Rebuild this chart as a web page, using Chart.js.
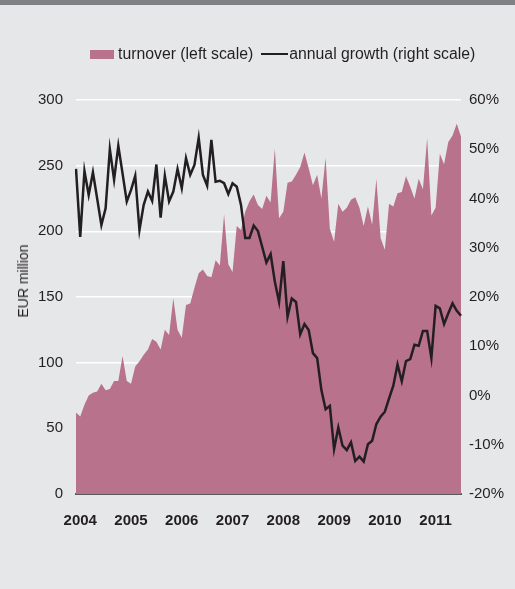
<!DOCTYPE html>
<html>
<head>
<meta charset="utf-8">
<script src="https://cdn.jsdelivr.net/npm/chart.js@4.4.1/dist/chart.umd.min.js"></script>
<style>
  html, body { margin: 0; padding: 0; }
  body { width: 515px; height: 589px; background: #e6e7e8; position: relative; overflow: hidden;
         font-family: 'Liberation Sans', Arial, sans-serif; color: #231f20; }
  #topbar { position: absolute; left: 0; top: 0; width: 515px; height: 5px; background: #808184; }
  #wrap { position: absolute; left: 0; top: 0; width: 515px; height: 589px; }
  #legend { position: absolute; top: 44px; left: 90px; height: 20px; display: flex; align-items: center;
            font-size: 15.8px; white-space: nowrap; }
  .box { width: 24px; height: 9px; background: #b8728b; margin-right: 4px; }
  .line { width: 27px; height: 2.5px; background: #231f20; margin-left: 8px; margin-right: 1px; }
  #ytitle { position: absolute; left: 23px; top: 281px; font-size: 14px; white-space: nowrap;
            transform: translate(-50%, -50%) rotate(-90deg); }
</style>
</head>
<body>
<div id="topbar"></div>
<div id="wrap"><canvas id="chart" width="515" height="589"></canvas></div>
<div id="legend">
  <span class="box"></span><span>turnover (left scale)</span>
  <span class="line"></span><span>annual growth (right scale)</span>
</div>
<div id="ytitle">EUR million</div>
<script>
// Monthly data, Jan 2004 - Aug 2011
const years = ['2004', '2005', '2006', '2007', '2008', '2009', '2010', '2011'];

// turnover, EUR million (left scale)
const turnover = [
  62, 59, 68, 75, 77, 78, 84, 79, 80, 86, 86, 105,
  86, 84, 97, 101, 106, 110, 118, 116, 110, 125, 121, 149,
  125, 119, 144, 145, 157, 168, 171, 166, 165, 178, 174, 213,
  175, 169, 204, 201, 215, 223, 228, 220, 217, 227, 222, 263,
  210, 215, 237, 238, 243, 249, 260, 248, 235, 243, 225, 256,
  202, 192, 221, 215, 218, 224, 226, 218, 204, 219, 205, 240,
  195, 186, 221, 219, 229, 230, 242, 234, 225, 240, 232, 271,
  212, 218, 259, 251, 268, 273, 282, 272
];

// annual growth, % (right scale)
const growth = [
  46, 32.2, 45.6, 40.7, 45.3, 40, 34.6, 38, 50, 43.8, 50.7, 45.1,
  39.4, 41.7, 44.6, 33.6, 38.7, 41.4, 39.5, 46.9, 36.1, 44.6, 39.4, 41.4,
  46, 42.1, 48.2, 44.8, 46.8, 52.3, 44.8, 42.6, 51.9, 43.4, 43.6, 43.1,
  40.9, 43.1, 42.4, 38.7, 32, 32, 34.5, 33.4, 30.2, 27, 28.7, 23.1,
  19, 27.3, 16, 19.7, 19, 12.4, 14.5, 13.3, 8.6, 7.6, 1.1, -2.8,
  -2.1, -10.9, -6.5, -10.2, -11.1, -9.5, -13.3, -12.4, -13.4, -9.9, -9.2, -5.8,
  -4.3, -3.3, -0.6, 2, 6.3, 2.9, 7, 7.4, 10.3, 10.1, 13.1, 13.1,
  7.6, 18.2, 17.7, 14.5, 16.7, 18.7, 17.2, 16.2
];

const labels = turnover.map((_, i) => years[Math.floor(i / 12)] + '-' + (i % 12 + 1));

const ink = '#231f20';
const tickFont = { family: "'Liberation Sans', Arial, sans-serif", size: 15 };

new Chart(document.getElementById('chart'), {
  type: 'line',
  data: {
    labels,
    datasets: [{
      label: 'annual growth (right scale)',
      data: growth,
      yAxisID: 'y1',
      borderColor: ink,
      borderWidth: 2.5,
      pointRadius: 0,
      tension: 0,
      fill: false,
      order: 0
    }, {
      label: 'turnover (left scale)',
      data: turnover,
      yAxisID: 'y',
      backgroundColor: '#b8728b',
      borderWidth: 0,
      pointRadius: 0,
      tension: 0,
      fill: 'origin',
      order: 1
    }]
  },
  options: {
    responsive: false,
    animation: false,
    layout: { padding: { top: 100, left: 0, right: 0, bottom: 0 } },
    plugins: { legend: { display: false }, tooltip: { enabled: false } },
    scales: {
      x: {
        offset: false,
        z: 1,
        grid: { display: false },
        border: { display: true, color: '#58595b', width: 2 },
        ticks: {
          autoSkip: false, maxRotation: 0, padding: 10, color: ink,
          font: { ...tickFont, weight: 'bold' },
          callback: (v, i) => (i % 12 === 1 ? years[Math.floor(i / 12)] : null)
        },
        afterFit: s => { s.height = 95; }
      },
      y: {
        position: 'left',
        min: 0, max: 300,
        grid: { color: '#ffffff', lineWidth: 1.5, drawTicks: false },
        border: { display: false },
        ticks: { stepSize: 50, padding: 13, color: ink, font: tickFont },
        afterFit: s => { s.width = 76; }
      },
      y1: {
        position: 'right',
        min: -20, max: 60,
        grid: { drawOnChartArea: false, drawTicks: false },
        border: { display: false },
        ticks: { stepSize: 10, padding: 8, color: ink, font: tickFont, callback: v => v + '%' },
        afterFit: s => { s.width = 54; }
      }
    }
  }
});
</script>
</body>
</html>
